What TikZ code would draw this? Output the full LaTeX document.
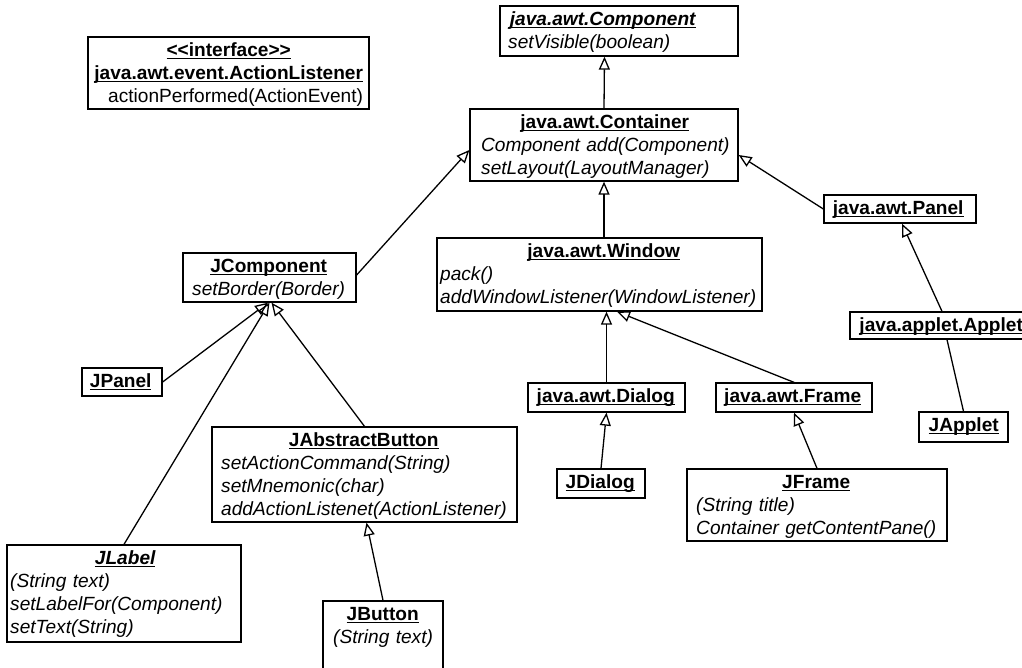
\documentclass[tikz,border=0pt]{standalone}
\usepackage{fontspec}
\setmainfont{Liberation Sans}
\usetikzlibrary{arrows.meta}
\newcommand\uline[1]{\leavevmode\setbox0=\hbox{#1}\rlap{\rule[-2.6pt]{\wd0}{1.1pt}}\box0}
\newcommand\umltitle[1]{\strut\hspace*{\umltc pt}\makebox[0pt]{\bfseries\uline{#1}}\par}
\newcommand\umlititle[1]{\strut\hspace*{\umltc pt}\makebox[0pt]{\bfseries\itshape\uline{#1}}\par}
\tikzset{
  cls/.style={draw, line width=1.3pt, inner sep=0pt, fill=white},
  clstext/.style={anchor=north west, inner xsep=0pt, inner ysep=3pt,
    font=\fontsize{19.1}{23.1}\selectfont,
    execute at begin node={\setlength{\parindent}{0pt}}},
  inherit/.style={line width=1.3pt, -{Triangle[open, length=13pt, width=11pt, line width=1.3pt]}},
  assoc/.style={line width=1.3pt},
}
% name, x1, y1, x2, y2, text left x, title centre x, body
\newcommand\umlclass[8]{%
  \pgfmathsetmacro\umlw{#4-#2}%
  \pgfmathsetmacro\umlh{#5-#3}%
  \pgfmathsetmacro\umlcx{(#2+#4)/2}%
  \pgfmathsetmacro\umlcy{(#3+#5)/2}%
  \pgfmathsetmacro\umltc{#7-#6}%
  \pgfmathsetmacro\umltw{#4-#6+60}%
  \node[cls, minimum width=\umlw pt, minimum height=\umlh pt] (#1) at (\umlcx,\umlcy) {};
  \node[clstext, text width=\umltw pt] (#1-t) at (#6,#3) {#8};
}
\begin{document}
\begin{tikzpicture}[x=1pt, y=-1pt]
\fill[white] (0,0) rectangle (1022,668);
\useasboundingbox (0,0) rectangle (1022,668);

\umlclass{comp}{500}{6}{738}{56}{508}{602.5}{\umlititle{java.awt.Component}\itshape setVisible(boolean)}
\umlclass{iface}{88}{37}{369}{109}{108}{228.5}{\umltitle{<\kern0pt<interface>\kern0pt>}\umltitle{java.awt.event.ActionListener}actionPerformed(ActionEvent)}
\umlclass{cont}{470}{109}{738}{181}{481}{604.5}{\umltitle{java.awt.Container}\itshape Component add(Component)\par setLayout(LayoutManager)}
\umlclass{panel}{824}{195}{976}{223}{824}{898}{\umltitle{java.awt.Panel}}
\umlclass{applet}{850}{312}{1032}{339}{850}{941}{\umltitle{java.applet.Applet}}
\umlclass{japplet}{919}{412}{1008}{442}{919}{963.5}{\umltitle{JApplet}}
\umlclass{jcomp}{183}{253}{356}{302}{192}{268.5}{\umltitle{JComponent}\itshape setBorder(Border)}
\umlclass{win}{437}{238}{762}{311}{440}{603.5}{\umltitle{java.awt.Window}\itshape pack()\par addWindowListener(WindowListener)}
\umlclass{dialog}{528}{383}{685}{412}{528}{605.5}{\umltitle{java.awt.Dialog}}
\umlclass{frame}{716}{383}{872}{412}{716}{792.5}{\umltitle{java.awt.Frame}}
\umlclass{jdialog}{557}{469}{645}{498}{557}{600}{\umltitle{JDialog}}
\umlclass{jframe}{687}{469}{947}{541}{696}{816}{\umltitle{JFrame}\itshape (String title)\par Container getContentPane()}
\umlclass{jpanel}{82}{368}{162}{396}{82}{120.5}{\umltitle{JPanel}}
\umlclass{jab}{212}{427}{517}{522}{221}{363.5}{\umltitle{JAbstractButton}\itshape setActionCommand(String)\par setMnemonic(char)\par addActionListenet(ActionListener)}
\umlclass{jlabel}{7}{545}{241}{642}{10}{125}{\umlititle{JLabel}\itshape (String text)\par setLabelFor(Component)\par setText(String)}
\umlclass{jbutton}{323}{601}{443}{675}{333}{382.5}{\umltitle{JButton}\itshape (String text)}

\draw[inherit] (cont.north) -- ([xshift=-14.5pt]comp.south);
\draw[inherit] ([xshift=4.5pt]win.north) -- (cont.south);
\draw[inherit] ([yshift=2.5pt]jcomp.east) -- ([yshift=-5pt]cont.west);
\draw[inherit] (panel.west) -- ([yshift=-10pt]cont.east);
\draw[inherit] ([xshift=1pt]applet.north) -- ([xshift=2pt]panel.south);
\draw[assoc] (japplet.north) -- ([xshift=6pt]applet.south);
\draw[inherit] (dialog.north) -- (dialog.north |- win.south);
\draw[inherit] (frame.north) -- ([xshift=17.5pt]win.south);
\draw[inherit] (jdialog.north) -- (dialog.south);
\draw[inherit] (jframe.north) -- (frame.south);
\draw[inherit] (jbutton.north) -- ([xshift=2pt]jab.south);
\draw[inherit] (jpanel.east) -- ([xshift=-1.5pt]jcomp.south);
\draw[inherit] (jlabel.north) -- (jcomp.south);
\draw[inherit] (jab.north) -- ([xshift=2pt]jcomp.south);
\end{tikzpicture}
\end{document}
